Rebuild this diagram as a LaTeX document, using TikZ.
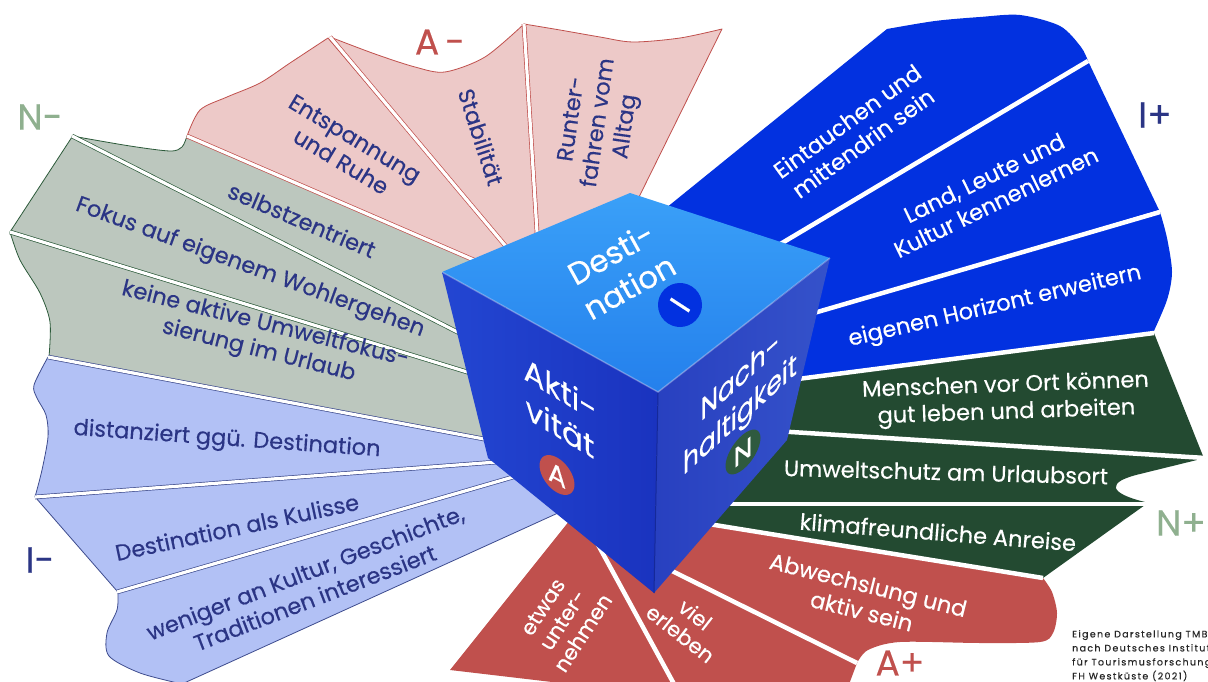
\documentclass[tikz,border=0pt]{standalone}
\usepackage{fontspec}
\setmainfont{Poppins}[FakeBold=0.35]

\definecolor{pinkfill}{HTML}{EDC9C8}
\definecolor{brick}{HTML}{C0504D}
\colorlet{pinkline}{brick}
\definecolor{sagefill}{HTML}{BCC7BE}
\definecolor{sageline}{HTML}{2C5A3A}
\definecolor{sagelabel}{HTML}{8FB08F}
\definecolor{skyfill}{HTML}{B2C1F5}
\definecolor{skyline}{HTML}{3E4C8E}
\definecolor{navytext}{HTML}{2B3585}
\definecolor{royal}{HTML}{0231E0}
\definecolor{forest}{HTML}{234A31}
\definecolor{badgegreen}{HTML}{2F5A3F}
\definecolor{cubetopback}{HTML}{3AA0F8}
\definecolor{cubetopfront}{HTML}{2480EC}
\definecolor{cubeleftA}{HTML}{2346D2}
\definecolor{cubeleftB}{HTML}{1A33BF}
\definecolor{cuberightA}{HTML}{2840C0}
\definecolor{cuberightB}{HTML}{3552CA}

\newcommand{\petalfont}{\fontsize{22.5}{27}\selectfont}
\newcommand{\smallpetalfont}{\fontsize{21}{24}\selectfont}
\newcommand{\cubefont}{\fontsize{31}{38}\selectfont}
\newcommand{\polefont}{\fontsize{36}{36}\selectfont}
\newcommand{\badgefont}{\fontsize{27}{27}\selectfont}
\newcommand{\sourcefont}{\fontsize{9.5}{14}\selectfont\addfontfeatures{LetterSpace=14}}

\tikzset{
  lightpetal/.style={fill=#1fill, draw=#1line, line width=0.8pt, line join=round},
  darkpetal/.style={fill=#1},
  lightgap/.style={draw=#1, line width=0.7pt, double=white, double distance=3.2pt},
  darkgap/.style={draw=white, line width=4.5pt},
  txt/.style={font=\petalfont, align=center, inner sep=0pt, text=navytext},
  wtxt/.style={txt, text=white},
  cubetxt/.style={font=\cubefont, align=center, inner sep=0pt, text=white},
  pole/.style={font=\polefont, inner sep=0pt},
  badge/.style={circle, inner sep=0pt, minimum size=#1, font=\badgefont, text=white},
}

\begin{document}
\begin{tikzpicture}[x=1pt,y=-1pt]
\useasboundingbox (0,0) rectangle (1208,682);
\fill[white] (0,0) rectangle (1208,682);

% A- : pink petals
\filldraw[lightpetal=pink] plot[smooth] coordinates {(187,136) (200,110) (227,97) (260,83) (290,63) (328,38)} -- (540,287) -- (520,280) -- cycle;
\filldraw[lightpetal=pink] plot[smooth] coordinates {(330,37) (375,54) (415,67) (445,72) (485,57) (524,24)} -- (540,280) -- (540,287) -- cycle;
\filldraw[lightpetal=pink] plot[smooth] coordinates {(524,24) (560,30) (600,37) (633,42) (680,38) (722,29)} -- (640,195) -- (620,240) -- (540,280) -- cycle;

% N- : sage petals
\filldraw[lightpetal=sage] plot[smooth] coordinates {(72,136) (130,146) (170,151) (182,147) (187,136)} -- (520,280) -- (485,346) -- cycle;
\filldraw[lightpetal=sage] (72,137) -- (10,232) -- (490,379) -- (485,346) -- cycle;
\filldraw[lightpetal=sage] plot[smooth] coordinates {(10,232) (20,260) (40,293) (50,322) (49,357)} -- (500,442) -- (490,379) -- cycle;

% I- : light blue petals
\filldraw[lightpetal=sky] plot[smooth] coordinates {(48,357) (34,385) (37,398) (46,415) (48,437) (42,470) (35,497)} -- (510,461) -- (500,442) -- cycle;
\filldraw[lightpetal=sky] (36,498) -- (117,591) -- (520,475) -- (510,461) -- cycle;
\filldraw[lightpetal=sky] plot[smooth] coordinates {(118,593) (117,610) (107,633) (109,656) (140,673) (182,684)} -- (580,503) -- (520,475) -- cycle;

% A+ : red petals
\fill[darkpetal=brick] (450,670) -- (590,495) -- (590,530) -- (680,695) -- (620,690) -- cycle;
\fill[darkpetal=brick] (590,530) -- (640,555) -- (857,663) -- (845,695) -- (680,695) -- cycle;
\fill[darkpetal=brick] (690,521) -- plot[smooth] coordinates {(1043,578) (1052,592) (1057,613) (1053,633) (1040,642) (980,643) (900,642) (868,650) (857,663)} -- (640,555) -- cycle;

% N+ : dark green petals
\fill[darkpetal=forest] (790,380) -- (1154,333) -- (1203,456) -- (775,431) -- cycle;
\fill[darkpetal=forest] (775,431) -- (1205,458) -- (1140,474) .. controls (1106,482) and (1108,493) .. (1145,502) -- (720,503) -- cycle;
\fill[darkpetal=forest] (720,505) -- (1145,505) -- (1043,578) -- (690,521) -- cycle;

% I+ : blue petals
\fill[darkpetal=royal] (650,221) -- plot[smooth] coordinates {(887,29) (935,21) (980,17) (1020,15) (1060,26) (1081,47) (1088,61)} -- (740,268) -- cycle;
\fill[darkpetal=royal] (1088,61) -- (1159,210) -- (790,320) -- (740,268) -- cycle;
\fill[darkpetal=royal] plot[smooth] coordinates {(1160,212) (1167,238) (1172,272) (1167,300) (1153,333)} -- (790,380) -- (790,320) -- cycle;

% white gaps between the petals
\draw[lightgap=brick] (330,37) -- (540,287);
\draw[lightgap=brick] (524,24) -- (540,280);
\draw[lightgap=brick] (187,136) -- (520,280);
\draw[lightgap=sageline] (72,136) -- (485,346);
\draw[lightgap=sageline] (10,232) -- (490,379);
\draw[lightgap=skyline] (48,357) -- (500,442);
\draw[lightgap=skyline] (35,497) -- (510,461);
\draw[lightgap=skyline] (117,592) -- (520,475);
\draw[darkgap] (590,530) -- (680,695);
\draw[darkgap] (640,555) -- (857,663);
\draw[darkgap] (690,521) -- (1043,578);
\draw[darkgap] (720,504) -- (1145,504);
\draw[darkgap] (775,431) -- (1205,458);
\draw[darkgap] (790,380) -- (1154,333);
\draw[darkgap] (790,320) -- (1160,212);
\draw[darkgap] (740,268) -- (1088,61);

% petal texts
\node[txt, rotate=-31] (entspannung) at (348,150) {Entspannung\\und Ruhe};
\node[txt, rotate=-72] (stabilitaet) at (481,137) {Stabilität};
\node[txt, rotate=82] (runterfahren) at (600,123) {Runter-\\fahren vom\\Alltag};
\node[txt, rotate=-23] (selbst) at (302,220) {selbstzentriert};
\node[txt, rotate=-20] (fokus) at (250,268) {Fokus auf eigenem Wohlergehen};
\node[txt, rotate=-14] (umweltfokus) at (262,338) {keine aktive Umweltfokus-\\sierung im Urlaub};
\node[txt, rotate=-4] (distanziert) at (227,440) {distanziert ggü. Destination};
\node[txt, rotate=12] (kulisse) at (237,527) {Destination als Kulisse};
\node[txt, rotate=21] (weniger) at (310,585) {weniger an Kultur, Geschichte,\\Traditionen interessiert};
\node[wtxt, font=\smallpetalfont, rotate=57] (unternehmen) at (563,620) {etwas\\unter-\\nehmen};
\node[wtxt, font=\smallpetalfont, rotate=-38] (erleben) at (688,624) {viel\\erleben};
\node[wtxt, rotate=-14] (abwechslung) at (865,598) {Abwechslung und\\aktiv sein};
\node[wtxt, rotate=2] (menschen) at (1006,400) {Menschen vor Ort können\\gut leben und arbeiten};
\node[wtxt, rotate=-1.5] (umweltschutz) at (946,472) {Umweltschutz am Urlaubsort};
\node[wtxt, rotate=-4.5] (anreise) at (938,532) {klimafreundliche Anreise};
\node[wtxt, rotate=36] (eintauchen) at (855,132) {Eintauchen und\\mittendrin sein};
\node[wtxt, rotate=26] (landleute) at (990,190) {Land, Leute und\\Kultur kennenlernen};
\node[wtxt, rotate=13] (horizont) at (995,307) {eigenen Horizont erweitern};

% the cube: top, left and right face
\shade[top color=cubetopback, bottom color=cubetopfront] (442,272) -- (630,193) -- (830,258) -- (658,392) -- cycle;
\shade[left color=cubeleftA, right color=cubeleftB] (442,272) -- (658,392) -- (654,593) -- (488,458) -- cycle;
\shade[left color=cuberightA, right color=cuberightB] (658,392) -- (830,258) -- (787,440) -- (654,593) -- cycle;
\draw[white, opacity=0.3, line width=1.5pt, line join=round] (442,272) -- (658,392) -- (830,258);
\draw[cubeleftB!80!black, line width=1pt] (658,393) -- (654,593);

\node[cubetxt, rotate=29] (destination) at (620,270) {Desti-\\nation};
\node[cubetxt, yslant=-0.6] (aktivitaet) at (560,408) {Akti-\\vität};
\node[cubetxt, yslant=0.9, xscale=0.8] (nachhaltigkeit) at (740,398) {Nach-\\haltigkeit};
\node[badge=44pt, fill=royal, rotate=57, font=\fontsize{32}{32}\selectfont] (ibadge) at (680,305) {I};
\node[badge=35pt, fill=brick, yslant=-0.55] (abadge) at (557,475) {A};
\node[badge=35pt, fill=badgegreen, yslant=0.8] (nbadge) at (743,452) {N};

% pole labels
\node[pole, text=brick] (aminus) at (440,42) {A\,-};
\node[pole, text=sagelabel] (nminus) at (40,117) {N-};
\node[pole, text=navytext] (iplus) at (1155,115) {I+};
\node[pole, text=sagelabel] (nplus) at (1181,523) {N+};
\node[pole, text=brick] (aplus) at (900,663) {A+};
\node[pole, text=navytext] (iminus) at (40,560) {I-};

\node[font=\sourcefont, align=left, anchor=north west, inner sep=0pt, text=black!85] (quelle) at (1072,630)
  {Eigene Darstellung TMB\\nach Deutsches Institut\\für Tourismusforschung\\FH Westküste (2021)};
\end{tikzpicture}
\end{document}
